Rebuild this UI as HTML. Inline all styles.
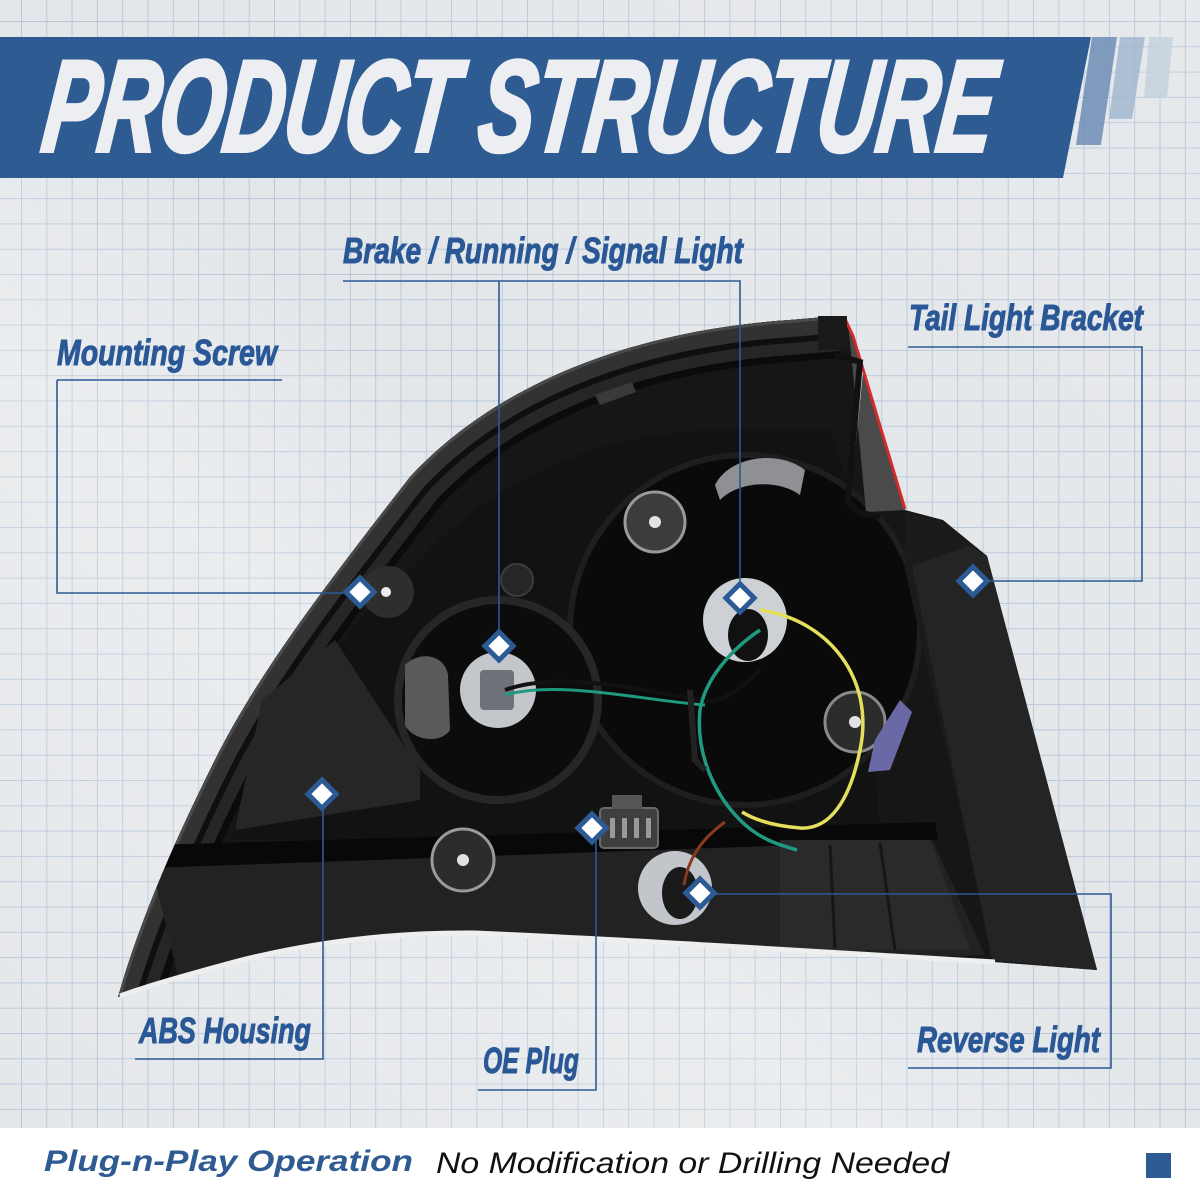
<!DOCTYPE html>
<html><head><meta charset="utf-8"><style>
html,body{margin:0;padding:0;background:#e4e7ea;}
svg{display:block;}
</style></head><body>
<svg width="1200" height="1200" viewBox="0 0 1200 1200" xmlns="http://www.w3.org/2000/svg">
<defs>
<pattern id="grid" x="21" y="21" width="25.3" height="25.3" patternUnits="userSpaceOnUse">
<path d="M0,0.5 H25.3 M0.5,0 V25.3" stroke="#b8c8da" stroke-width="1" fill="none"/>
</pattern>
<linearGradient id="sheen" x1="0" y1="1" x2="1" y2="0">
<stop offset="0" stop-color="#ffffff" stop-opacity="0"/>
<stop offset="0.35" stop-color="#ffffff" stop-opacity="0.25"/>
<stop offset="0.5" stop-color="#ffffff" stop-opacity="0"/>
<stop offset="1" stop-color="#ffffff" stop-opacity="0.1"/>
</linearGradient>
<clipPath id="body">
<path id="silp" d="M118,997 C140,920 175,840 215,760 C260,670 330,580 410,477 C500,380 640,330 790,320 L837,316 L848,322 L905,510 L943,520 L987,556 L1097,970 L995,962 C820,952 640,940 475,933 C380,932 300,945 234,962 C190,974 150,985 118,997 Z"/>
</clipPath>
</defs>

<rect width="1200" height="1200" fill="#e4e7ea"/>
<rect width="1200" height="1130" fill="url(#grid)"/>
<rect width="1200" height="1130" fill="url(#sheen)"/>

<!-- header band -->
<polygon points="0,37 1091,37 1063,178 0,178" fill="#2d5b92"/>
<polygon points="1092,37 1117,37 1101,145 1076,145" fill="#6d8db5" opacity="0.85"/>
<polygon points="1120,37 1145,37 1132,119 1109,119" fill="#9fb4cd" opacity="0.8"/>
<polygon points="1149,37 1173,37 1167,98 1144,98" fill="#c3cfdd" opacity="0.8"/>
<g transform="translate(14,0) skewX(-7)">
<text x="44" y="151" font-family="Liberation Sans, sans-serif" font-weight="bold" font-style="italic" font-size="130" textLength="950" lengthAdjust="spacingAndGlyphs" fill="#eceef1" stroke="#eceef1" stroke-width="4">PRODUCT STRUCTURE</text>
</g>

<!-- tail light -->
<use href="#silp" fill="#161616"/>
<g clip-path="url(#body)">
  <path d="M118,997 C140,920 175,840 215,760 C260,670 330,580 410,477 C500,380 640,330 790,320 L837,316" fill="none" stroke="#0b0b0b" stroke-width="84"/>
  <path d="M118,997 C140,920 175,840 215,760 C260,670 330,580 410,477 C500,380 640,330 790,320 L837,316" fill="none" stroke="#262626" stroke-width="70"/>
  <path d="M118,997 C140,920 175,840 215,760 C260,670 330,580 410,477 C500,380 640,330 790,320 L837,316" fill="none" stroke="#0f0f0f" stroke-width="46"/>
  <path d="M118,997 C140,920 175,840 215,760 C260,670 330,580 410,477 C500,380 640,330 790,320 L837,316" fill="none" stroke="#323232" stroke-width="34"/>
  <path d="M118,997 C140,920 175,840 215,760 C260,670 330,580 410,477 C500,380 640,330 790,320 L837,316" fill="none" stroke="#4a4a4a" stroke-width="6"/>
  <path d="M420,560 C500,470 620,430 720,430 L830,430 L860,520 L880,840 L230,840 C260,740 330,640 420,560 Z" fill="#121212"/>
  <circle cx="745" cy="630" r="175" fill="#0a0a0a" stroke="#1e1e1e" stroke-width="6"/>
  <circle cx="498" cy="700" r="100" fill="#0c0c0c" stroke="#262626" stroke-width="8"/>
  <polygon points="262,700 335,640 420,770 420,800 235,830" fill="#262626"/>
  <path d="M150,860 L930,835 L985,955 L180,985 Z" fill="#222"/>
  <path d="M150,845 L935,822 L938,840 L150,868 Z" fill="#080808"/>
  <polygon points="780,840 930,840 970,950 780,950" fill="#2a2a2a"/>
  <line x1="830" y1="845" x2="835" y2="948" stroke="#161616" stroke-width="3"/>
  <line x1="880" y1="843" x2="895" y2="950" stroke="#161616" stroke-width="3"/>
  <path d="M715,485 C730,455 780,450 805,470 L800,495 C780,480 740,480 720,500 Z" fill="#8e9094"/>
  <circle cx="517" cy="580" r="16" fill="#262626" stroke="#3c3c3c" stroke-width="2"/>
  <polygon points="595,395 632,382 636,392 600,405" fill="#3a3a3a"/>
</g>

<polygon points="848,325 905,510 866,512 852,362" fill="#4a4a4a"/>
<path d="M846,321 L853,336 L905,509" fill="none" stroke="#d42a2a" stroke-width="3"/>
<path d="M862,372 L850,492" stroke="#d8d8d8" stroke-width="2"/>
<path d="M835,355 L860,362 L848,500 Q852,514 880,516" fill="none" stroke="#111" stroke-width="6"/>
<rect x="818" y="316" width="29" height="34" fill="#1a1a1a"/>
<polygon points="905,512 945,522 987,556 1097,970 995,962 905,570" fill="#1b1b1b"/>
<polygon points="912,566 970,546 987,556 1097,970 992,960" fill="#242424"/>

<path d="M120,996 C150,985 190,974 234,962 C300,945 380,932 475,933 C640,940 820,952 995,962" fill="none" stroke="#eeeeee" stroke-width="5"/>

<path d="M405,665 C420,650 445,655 448,675 L450,730 C440,745 412,740 405,725 Z" fill="#5a5a5a"/>

<circle cx="498" cy="690" r="38" fill="#c3c7cc"/>
<rect x="480" y="670" width="34" height="40" rx="4" fill="#6e7278"/>
<circle cx="745" cy="620" r="42" fill="#cdd1d6"/>
<ellipse cx="748" cy="635" rx="20" ry="26" fill="#111"/>
<circle cx="675" cy="888" r="37" fill="#c2c6ca"/>
<ellipse cx="680" cy="893" rx="18" ry="26" fill="#1a1a1a"/>

<g>
<circle cx="655" cy="522" r="30" fill="#3c3c3c" stroke="#9a9a9a" stroke-width="3"/>
<circle cx="655" cy="522" r="6" fill="#e2e2e2"/>
<circle cx="855" cy="722" r="30" fill="#2c2c2c" stroke="#8a8a8a" stroke-width="3"/>
<circle cx="855" cy="722" r="6" fill="#e2e2e2"/>
<circle cx="463" cy="860" r="31" fill="#2c2c2c" stroke="#9a9a9a" stroke-width="3"/>
<circle cx="463" cy="860" r="6" fill="#e2e2e2"/>
<circle cx="388" cy="592" r="26" fill="#2e2e2e"/>
<circle cx="386" cy="592" r="5" fill="#eee"/>
</g>

<rect x="600" y="808" width="58" height="40" rx="4" fill="#3f3f3f" stroke="#6a6a6a" stroke-width="2"/>
<rect x="612" y="795" width="30" height="14" fill="#555"/>
<g fill="#9a9a9a"><rect x="610" y="818" width="5" height="20"/><rect x="622" y="818" width="5" height="20"/><rect x="634" y="818" width="5" height="20"/><rect x="646" y="818" width="5" height="20"/></g>

<path d="M875,740 L900,700 L912,712 L890,770 L868,772 Z" fill="#6b68a6"/>

<path d="M505,690 C560,670 640,690 700,700 C720,705 740,690 760,670" fill="none" stroke="#111" stroke-width="4"/>
<path d="M505,695 C560,680 640,700 705,705" fill="none" stroke="#1f9a80" stroke-width="3"/>
<path d="M760,630 C730,650 705,680 700,710 C695,760 720,800 740,820 C760,840 780,845 797,850" fill="none" stroke="#1f9a80" stroke-width="3.5"/>
<path d="M760,610 C830,620 875,680 860,750 C850,800 830,830 800,828 C775,826 755,820 742,812" fill="none" stroke="#e6df5c" stroke-width="3.5"/>
<path d="M684,885 C688,860 700,840 725,822" fill="none" stroke="#8b3a1e" stroke-width="3"/>
<path d="M690,690 L695,760 L705,770" fill="none" stroke="#222" stroke-width="6"/>

<g fill="none" stroke="#2b5a94" stroke-width="1.6">
<path d="M343,281 H740 V598"/>
<path d="M499,281 V646"/>
<path d="M57,380 H282"/>
<path d="M57,380 V593 H345"/>
<path d="M908,347 H1142 V581 H990"/>
<path d="M135,1059 H323 V794"/>
<path d="M478,1090 H596 V828"/>
<path d="M908,1068 H1111 V894 H715"/>
</g>

<g fill="#ffffff" stroke="#2b5a94" stroke-width="5">
<rect x="-10" y="-10" width="20" height="20" transform="translate(360,592) rotate(45)"/>
<rect x="-10" y="-10" width="20" height="20" transform="translate(499,646) rotate(45)"/>
<rect x="-10" y="-10" width="20" height="20" transform="translate(740,598) rotate(45)"/>
<rect x="-10" y="-10" width="20" height="20" transform="translate(973,581) rotate(45)"/>
<rect x="-10" y="-10" width="20" height="20" transform="translate(322,794) rotate(45)"/>
<rect x="-10" y="-10" width="20" height="20" transform="translate(592,828) rotate(45)"/>
<rect x="-10" y="-10" width="20" height="20" transform="translate(700,893) rotate(45)"/>
</g>

<g font-family="Liberation Sans, sans-serif" font-weight="bold" font-style="italic" font-size="36" fill="#2a5896" stroke="#2a5896" stroke-width="1">
<text x="343" y="263" textLength="400" lengthAdjust="spacingAndGlyphs">Brake / Running / Signal Light</text>
<text x="57" y="365" textLength="220" lengthAdjust="spacingAndGlyphs">Mounting Screw</text>
<text x="909" y="330" textLength="234" lengthAdjust="spacingAndGlyphs">Tail Light Bracket</text>
<text x="139" y="1043" textLength="172" lengthAdjust="spacingAndGlyphs">ABS Housing</text>
<text x="483" y="1073" textLength="96" lengthAdjust="spacingAndGlyphs">OE Plug</text>
<text x="917" y="1052" textLength="183" lengthAdjust="spacingAndGlyphs">Reverse Light</text>
</g>

<rect x="0" y="1128" width="1200" height="72" fill="#ffffff"/>
<text x="44" y="1171" font-family="Liberation Sans, sans-serif" font-weight="bold" font-style="italic" font-size="30" fill="#2d5b92" textLength="369" lengthAdjust="spacingAndGlyphs">Plug-n-Play Operation</text>
<text x="436" y="1173" font-family="Liberation Sans, sans-serif" font-style="italic" font-size="30" fill="#111111" textLength="513" lengthAdjust="spacingAndGlyphs">No Modification or Drilling Needed</text>
<rect x="1146" y="1153" width="25" height="25" fill="#2d5b92"/>
</svg>
</body></html>
